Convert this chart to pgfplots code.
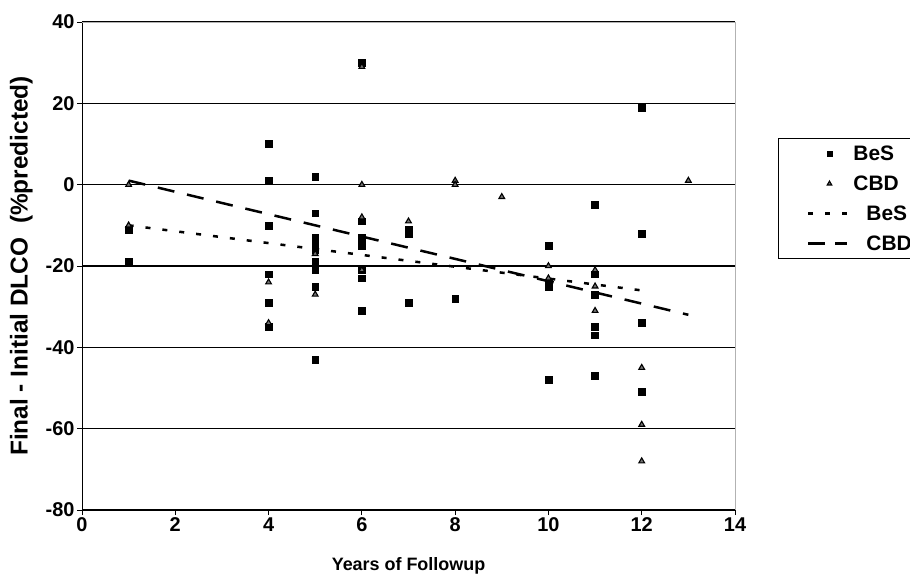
\documentclass[border=0pt]{standalone}
\usepackage{pgfplots}
\pgfplotsset{compat=1.18}
\usepackage{fontspec}
\setmainfont{Liberation Sans}
\begin{document}
\begin{tikzpicture}
\begin{axis}[
  scale only axis, width=653bp, height=488bp,
  xmin=0, xmax=14, ymin=-80, ymax=40,
  xtick={0,2,...,14}, ytick={-80,-60,...,40},
  axis lines*=left,
  axis line style={black, line width=1pt},
  ymajorgrids, grid style={black, line width=1.3pt},
  tick align=outside, major tick length=5bp,
  tick style={black, line width=0.8pt},
  /pgf/number format/assume math mode=true,
  ticklabel style={font=\bfseries\fontsize{20}{22}\selectfont},
  xticklabel style={yshift=1bp},
  yticklabel style={xshift=1bp},
  xlabel={Years of Followup},
  ylabel={Final - Initial DLCO\ \ (\%predicted)},
  xlabel style={font=\bfseries\fontsize{18}{20}\selectfont, at={(axis description cs:0.5,-0.115)}, anchor=center},
  ylabel style={font=\bfseries\fontsize{24.5}{26}\selectfont, at={(axis description cs:-0.093,0.5)}, anchor=center},
  legend style={at={(axis description cs:1.066,0.762)}, anchor=north west, draw=black, line width=0.8pt,
    font=\bfseries\fontsize{21}{22}\selectfont, row sep=10bp, inner xsep=8bp, inner ysep=5bp,
    nodes={inner xsep=2bp}},
  legend cell align=left,
  clip=false,
]
\addplot[only marks, mark=square*, mark size=3.4bp, mark options={fill=black, draw=black},
  legend image code/.code={\draw[draw=none] (0bp,0bp) -- (65bp,0bp); \path[mark size=2.6bp] plot coordinates {(43bp,0bp)};}] coordinates {
(1,-11)(1,-19)
(4,10)(4,1)(4,-10)(4,-22)(4,-29)(4,-35)
(5,2)(5,-7)(5,-13)(5,-15)(5,-16)(5,-19)(5,-21)(5,-25)(5,-43)
(6,30)(6,-9)(6,-13)(6,-15)(6,-21)(6,-23)(6,-31)
(7,-11)(7,-12)(7,-29)
(8,-28)
(10,-15)(10,-24)(10,-25)(10,-48)
(11,-5)(11,-22)(11,-27)(11,-35)(11,-37)(11,-47)
(12,19)(12,-12)(12,-34)(12,-51)
};
\addlegendentry{BeS}
\addplot[only marks, mark=triangle*, mark size=3.3bp, mark options={fill=black!55, draw=black, line width=1.1bp},
  legend image code/.code={\draw[draw=none] (0bp,0bp) -- (65bp,0bp); \path[mark size=2.6bp] plot coordinates {(43bp,0bp)};}] coordinates {
(1,0)(1,-10)
(4,-24)(4,-34)
(5,-17)(5,-27)
(6,29)(6,0)(6,-8)(6,-21)
(7,-9)
(8,1)(8,0)
(9,-3)
(10,-20)(10,-23)
(11,-21)(11,-25)(11,-31)
(12,-45)(12,-59)(12,-68)
(13,1)
};
\addlegendentry{CBD}
\addplot[black, line width=2.5bp, dash pattern=on 5bp off 12bp,
  legend image code/.code={\draw[black, line width=2.8bp, dash pattern=on 5bp off 12bp] (22bp,0bp) -- (61bp,0bp); \draw[draw=none] (0bp,0bp) -- (65bp,0bp);}] coordinates {(1,-10)(12,-26)};
\addlegendentry{\hspace{13bp}BeS}
\addplot[black, line width=2.5bp, dash pattern=on 17bp off 13bp,
  legend image code/.code={\draw[black, line width=2.8bp, dash pattern=on 17bp off 10bp] (22bp,0bp) -- (61bp,0bp); \draw[draw=none] (0bp,0bp) -- (65bp,0bp);}] coordinates {(1,1)(13,-32)};
\addlegendentry{\hspace{13bp}CBD}
\draw[gray!60, line width=0.8pt] (rel axis cs:0,1) -- (rel axis cs:1,1) -- (rel axis cs:1,0);
\end{axis}
\pgfresetboundingbox
\useasboundingbox ([xshift=-82bp,yshift=-73bp]current axis.south west) rectangle ([xshift=175bp,yshift=22bp]current axis.north east);
\end{tikzpicture}
\end{document}
